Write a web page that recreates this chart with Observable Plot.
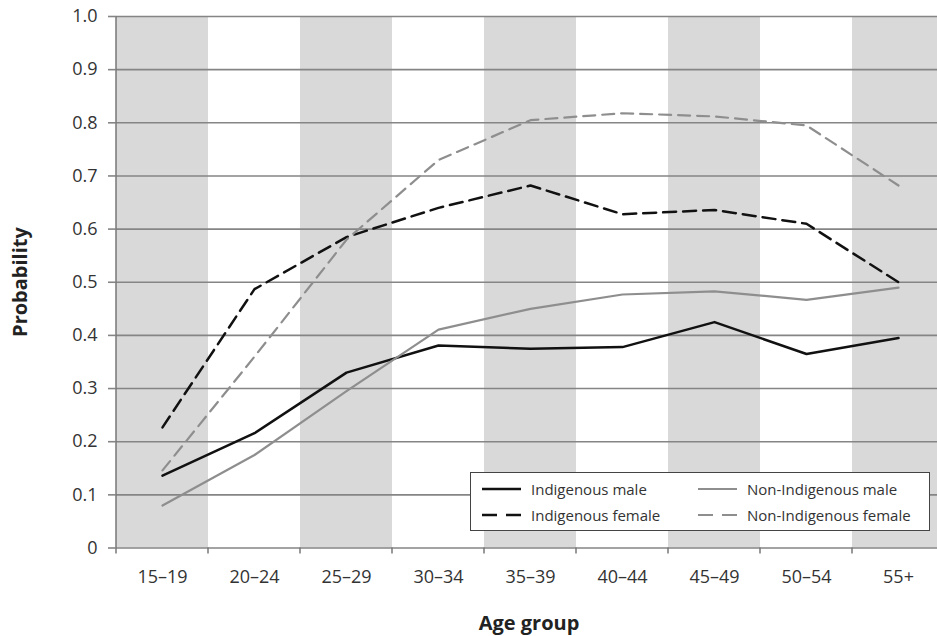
<!DOCTYPE html>
<html><head><meta charset="utf-8">
<script src="https://cdn.jsdelivr.net/npm/d3@7"></script>
<script src="https://cdn.jsdelivr.net/npm/@observablehq/plot@0.6"></script>
<style>
body{margin:0;overflow:hidden;background:#fff;font-family:"Open Sans",sans-serif;}
#wrap{position:relative;width:937px;height:636px;overflow:hidden;}
#wrap svg{overflow:hidden;}
.axlabel{position:absolute;font-weight:bold;font-size:20px;color:#222;white-space:nowrap;}
#ylab{left:19px;top:282px;transform:translate(-50%,-50%) rotate(-90deg);}
#xlab{left:529px;top:622px;transform:translate(-50%,-50%);}
#legend{position:absolute;left:470px;top:472px;width:458px;height:57px;border:1.5px solid #444;background:#fff;font-size:15px;color:#333;}
.item{position:absolute;display:flex;align-items:center;white-space:nowrap;}
.item svg{margin-right:10px;}
</style></head><body><div id="wrap"></div>
<script>
const ageGroups = ["15–19","20–24","25–29","30–34","35–39","40–44","45–49","50–54","55+"];
const shadedGroups = ["15–19","25–29","35–39","45–49","55+"];
const yTicks = [0,0.1,0.2,0.3,0.4,0.5,0.6,0.7,0.8,0.9,1.0];
const seriesNames = ["Indigenous male","Indigenous female","Non-Indigenous male","Non-Indigenous female"];
const indigenousMale      = [0.136,0.216,0.330,0.381,0.375,0.378,0.425,0.365,0.395];
const indigenousFemale    = [0.227,0.487,0.585,0.640,0.682,0.628,0.636,0.610,0.500];
const nonIndigenousMale   = [0.080,0.175,0.295,0.411,0.450,0.477,0.483,0.467,0.490];
const nonIndigenousFemale = [0.146,0.360,0.580,0.730,0.805,0.818,0.812,0.795,0.682];

const styles = [
  {stroke:"#111", width:2.5, dash:null},
  {stroke:"#111", width:2.5, dash:"13,7"},
  {stroke:"#8e8e8e", width:2.2, dash:null},
  {stroke:"#8e8e8e", width:2.2, dash:"12,7"}
];
const seriesValues = [indigenousMale, indigenousFemale, nonIndigenousMale, nonIndigenousFemale];
const rows = seriesValues.map((vals,i)=>ageGroups.map((a,j)=>({series:seriesNames[i], age:a, value:vals[j]})));

function boundaries(index, scales) {
  const x = scales.x, y = scales.y;
  const bw = x.bandwidth ? x.bandwidth() : (x(ageGroups[1]) - x(ageGroups[0]));
  const g = d3.create("svg:g").attr("stroke","#777").attr("stroke-width",1.5);
  const x0 = x(ageGroups[0]);
  g.append("line").attr("x1",x0).attr("x2",x0).attr("y1",y(1)).attr("y2",y(0)+6);
  for (const c of ageGroups) {
    const xe = x(c) + bw;
    g.append("line").attr("x1",xe).attr("x2",xe).attr("y1",y(0)).attr("y2",y(0)+6);
  }
  return g.node();
}

const chart = Plot.plot({
  width: 937, height: 636,
  marginLeft: 116, marginRight: 0, marginTop: 16, marginBottom: 88,
  x: {type:"band", domain: ageGroups, range:[116, 944], paddingInner:0, paddingOuter:0, round:false},
  y: {domain:[0,1], range:[547.5,16]},
  style: {fontFamily:"'Open Sans', sans-serif", fontSize:"18px", color:"#333", background:"#fff"},
  marks: [
    Plot.barY(shadedGroups, {x: d=>d, y1: 0, y2: 1, fill:"#d9d9d9"}),
    Plot.ruleY(yTicks, {y: d=>d, stroke:"#858585", strokeWidth:1.6}),
    boundaries,
    ...rows.map((r,i)=>Plot.line(r, {x:"age", y:"value", stroke: styles[i].stroke, strokeWidth: styles[i].width, strokeDasharray: styles[i].dash ?? undefined})),
    Plot.axisY(yTicks, {tickSize: 8, tickPadding: 11, stroke:"#858585", strokeWidth:1.6, tickFormat: d => d===0 ? "0" : d.toFixed(1), label: null, fontSize: 18, fill:"#333"}),
    Plot.axisX({tickSize: 0, tickPadding: 22, label: null, fontSize: 18, fill:"#333"})
  ]
});
const wrap = document.getElementById("wrap");
wrap.appendChild(chart);

const ylab = document.createElement("div"); ylab.className="axlabel"; ylab.id="ylab"; ylab.textContent="Probability"; wrap.appendChild(ylab);
const xlab = document.createElement("div"); xlab.className="axlabel"; xlab.id="xlab"; xlab.textContent="Age group"; wrap.appendChild(xlab);

const legend = document.createElement("div"); legend.id="legend";
const pos = [[11,6],[11,32],[227,6],[227,32]];
const order = [0,1,2,3];
order.forEach((i,k)=>{
  const it = document.createElement("div"); it.className="item";
  it.style.left = pos[k][0]+"px"; it.style.top = pos[k][1]+"px";
  const s = styles[i];
  it.innerHTML = `<svg width="39" height="20"><line x1="0" x2="39" y1="10" y2="10" stroke="${s.stroke}" stroke-width="${s.width}" ${s.dash ? 'stroke-dasharray="15,9"' : ''}/></svg><span>${seriesNames[i]}</span>`;
  legend.appendChild(it);
});
wrap.appendChild(legend);
</script>
</body></html>
